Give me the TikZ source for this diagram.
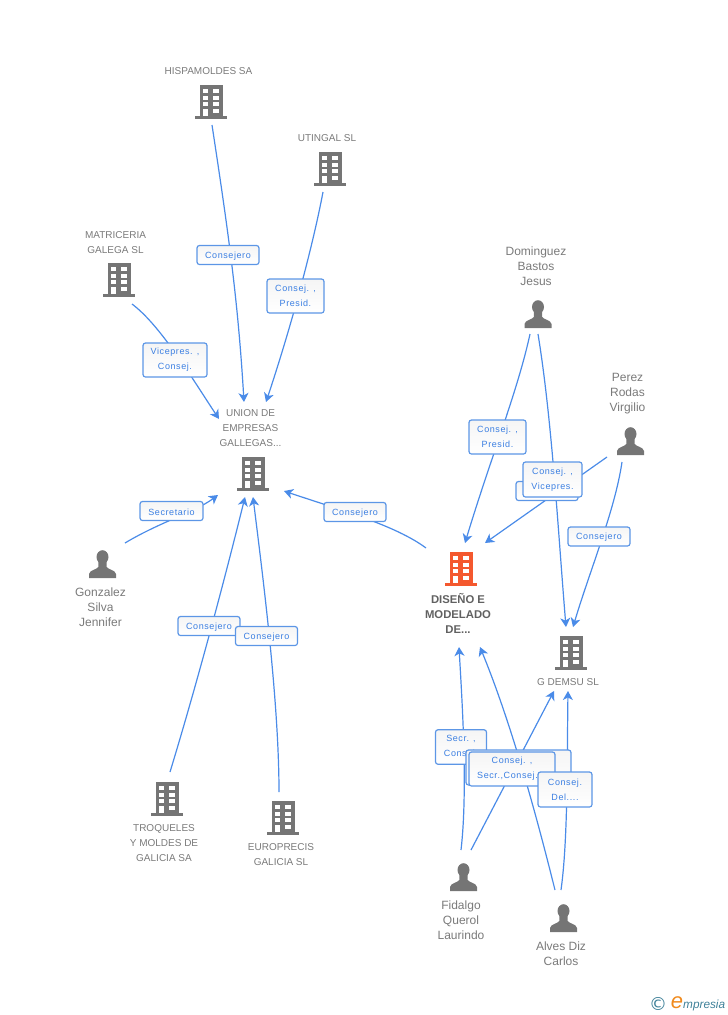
\documentclass[tikz,border=0pt]{standalone}
\usepackage{fontspec}
\setmainfont{Liberation Sans}
\newfontfamily\lblfont[LetterSpace=6.5]{Liberation Sans}
\newfontfamily\dejafont{DejaVu Sans}
\usetikzlibrary{arrows.meta}
\definecolor{linkblue}{HTML}{4A8BE8}
\definecolor{boxblue}{HTML}{5C96E6}
\definecolor{lbltext}{HTML}{3B7FE2}
\definecolor{greytxt}{HTML}{7A7A7A}
\definecolor{iconGrey}{HTML}{757575}
\definecolor{iconOrange}{HTML}{F4582E}
\definecolor{markTeal}{HTML}{3F8199}
\definecolor{markOrange}{HTML}{F08A1D}
\tikzset{
  x=1pt,y=-1pt,
  link/.style={draw=linkblue,line width=1.2pt,-{Stealth[length=9pt,width=10pt,inset=2.6pt]}},
  lbl/.style={draw=boxblue,line width=1.2pt,rounded corners=2.5pt,top color=black!4,bottom color=white,
    inner sep=0pt,align=center,text=lbltext,font=\lblfont\fontsize{9}{15}\selectfont,
    execute at begin node={\rule{0pt}{8.6pt}}},
  lbla/.style={lbl,minimum width=62pt,minimum height=19pt},
  ent/.style={inner sep=0pt,align=center,text=greytxt,font=\fontsize{10}{15}\selectfont},
  pers/.style={inner sep=0pt,align=center,text=greytxt,font=\fontsize{12}{15}\selectfont},
  focus/.style={inner sep=0pt,align=center,text=black!62,font=\bfseries\fontsize{11.3}{15}\selectfont},
  iconbox/.style={inner sep=0pt,minimum width=30pt,minimum height=30pt},
  bldg/.pic={
    \fill[#1] (-11.5,-17) rectangle (11.5,14);
    \fill[#1] (-16,14) rectangle (16,17);
    \foreach \yy in {-13,-6.5,0}{
      \fill[white] (-8,\yy) rectangle (-2.7,\yy+4.4);
      \fill[white] (2.3,\yy) rectangle (7.6,\yy+4.4);
    }
    \fill[white] (2.3,6.5) rectangle (7.6,10.9);
    \fill[white] (-8,6.5) rectangle (-2.7,14);
  },
  person/.pic={
    \fill[iconGrey] (0,-7) ellipse[x radius=6,y radius=6.8];
    \fill[iconGrey] (-4.2,-2) -- (-4.2,3) .. controls (-5.5,5.5) and (-13,6) .. (-13.5,10)
      -- (-13.5,14) -- (13.5,14) -- (13.5,10) .. controls (13,6) and (5.5,5.5) .. (4.2,3) -- (4.2,-2) -- cycle;
  },
}
\begin{document}
\begin{tikzpicture}
\useasboundingbox (0,0) rectangle (728,1015);
% icons
\node[iconbox] (hisp) at (211,102) {}; \pic at (hisp) {bldg=iconGrey};
\node[iconbox] (utin) at (330,169) {}; \pic at (utin) {bldg=iconGrey};
\node[iconbox] (matr) at (119,280) {}; \pic at (matr) {bldg=iconGrey};
\node[iconbox] (unio) at (253,474) {}; \pic at (unio) {bldg=iconGrey};
\node[iconbox] (dise) at (461,569) {}; \pic at (dise) {bldg=iconOrange};
\node[iconbox] (gdem) at (571,653) {}; \pic at (gdem) {bldg=iconGrey};
\node[iconbox] (troq) at (167,799) {}; \pic at (troq) {bldg=iconGrey};
\node[iconbox] (euro) at (283,818) {}; \pic at (euro) {bldg=iconGrey};
\node[iconbox] (gonz) at (102.5,564) {}; \pic at (gonz) {person};
\node[iconbox] (domi) at (538,314) {}; \pic at (domi) {person};
\node[iconbox] (pere) at (630.5,441) {}; \pic at (pere) {person};
\node[iconbox] (fida) at (463.5,877) {}; \pic at (fida) {person};
\node[iconbox] (alve) at (563.5,918) {}; \pic at (alve) {person};
% names
\node[ent] (t1) at (208.5,71.5) {HISPAMOLDES SA};
\node[ent] (t2) at (327,138.5) {UTINGAL SL};
\node[ent] (t3) at (115.5,243) {MATRICERIA\\GALEGA SL};
\node[ent] (t4) at (250.5,428.5) {UNION DE\\EMPRESAS\\GALLEGAS...};
\node[pers] (t5) at (100.5,607) {Gonzalez\\Silva\\Jennifer};
\node[pers] (t6) at (536,266) {Dominguez\\Bastos\\Jesus};
\node[pers] (t7) at (627.5,394) {Perez\\Rodas\\Virgilio};
\node[focus] (t8) at (458,613) {DISEÑO E\\MODELADO\\DE...};
\node[ent] (t9) at (568,682.5) {G DEMSU SL};
\node[ent] (t10) at (164,843.5) {TROQUELES\\Y MOLDES DE\\GALICIA SA};
\node[ent] (t11) at (281,855) {EUROPRECIS\\GALICIA SL};
\node[pers] (t12) at (461,920) {Fidalgo\\Querol\\Laurindo};
\node[pers] (t13) at (561,953.5) {Alves Diz\\Carlos};
% connector ends
\coordinate (hisp-o) at (212,125);
\coordinate (utin-o) at (323,192);
\coordinate (matr-o) at (132,304);
\coordinate (gonz-o) at (125,543);
\coordinate (troq-o) at (170,772);
\coordinate (euro-o) at (279,792);
\coordinate (dise-o) at (426,548);
\coordinate (domi-a) at (530,334);
\coordinate (domi-b) at (538,334);
\coordinate (pere-a) at (607,457);
\coordinate (pere-b) at (622,462);
\coordinate (fida-a) at (461,850);
\coordinate (fida-b) at (471,850);
\coordinate (alve-a) at (555,890);
\coordinate (alve-b) at (561,890);
\coordinate (unio-a) at (244,402);
\coordinate (unio-b) at (266,402);
\coordinate (unio-c) at (219,419);
\coordinate (unio-d) at (218,495);
\coordinate (unio-e) at (245,497);
\coordinate (unio-f) at (253,497);
\coordinate (unio-g) at (284,491);
\coordinate (dise-a) at (465,543);
\coordinate (dise-b) at (485,543);
\coordinate (dise-c) at (459,647);
\coordinate (dise-d) at (480,647);
\coordinate (gdem-a) at (566,627);
\coordinate (gdem-b) at (573,627);
\coordinate (gdem-c) at (554,691);
\coordinate (gdem-d) at (568,691);
% connectors
\draw[link] (hisp-o) .. controls (228,230) and (238,300) .. (unio-a);
\draw[link] (utin-o) .. controls (312,250) and (290,330) .. (unio-b);
\draw[link] (matr-o) .. controls (160,325) and (190,375) .. (unio-c);
\draw[link] (gonz-o) .. controls (160,522) and (195,512) .. (unio-d);
\draw[link] (troq-o) .. controls (195,690) and (222,590) .. (unio-e);
\draw[link] (euro-o) .. controls (279,700) and (262,570) .. (unio-f);
\draw[link] (dise-o) .. controls (395,525) and (340,510) .. (unio-g);
\draw[link] (domi-a) .. controls (518,390) and (490,460) .. (dise-a);
\draw[link] (domi-b) .. controls (552,420) and (558,530) .. (gdem-a);
\draw[link] (pere-a) -- (dise-b);
\draw[link] (pere-b) .. controls (615,510) and (590,570) .. (gdem-b);
\draw[link] (fida-a) .. controls (468,790) and (462,700) .. (dise-c);
\draw[link] (fida-b) -- (gdem-c);
\draw[link] (alve-a) .. controls (540,830) and (514,730) .. (dise-d);
\draw[link] (alve-b) .. controls (568,840) and (567,760) .. (gdem-d);
% labels
\node[lbla] (l1) at (228,255) {Consejero};
\node[lbl,minimum width=57pt,minimum height=34pt] (l2) at (295.5,296) {Consej. ,\\Presid.};
\node[lbl,minimum width=64pt,minimum height=34pt] (l3) at (175,360) {Vicepres. ,\\Consej.};
\node[lbla,minimum width=63pt] (l4) at (171.5,511) {Secretario};
\node[lbla] (l5) at (355,512) {Consejero};
\node[lbla] (l6) at (209,626) {Consejero};
\node[lbla] (l7) at (266.5,636) {Consejero};
\node[lbl,minimum width=57pt,minimum height=34pt] (l8) at (497.5,437) {Consej. ,\\Presid.};
\node[lbla] (l9) at (547,491) {};
\node[lbl,minimum width=59pt,minimum height=35pt] (l10) at (552.5,479.5) {Consej. ,\\Vicepres.};
\node[lbla] (l11) at (599,536.5) {Consejero};
\node[lbl,minimum width=51pt,minimum height=34.5pt] (l12) at (461,747) {Secr. ,\\Consej.};
\node[lbl,minimum width=105pt,minimum height=35pt] (l13) at (518.5,767.5) {};
\node[lbl,minimum width=86pt,minimum height=34pt] (l14) at (512,769) {Consej. ,\\Secr.,Consej.\hspace*{9pt}};
\node[lbl,minimum width=54pt,minimum height=35pt] (l15) at (565,789.5) {Consej.\\Del....};
% watermark
\node[inner sep=0pt,text=markTeal,font=\dejafont\fontsize{18}{18}\selectfont] (m1) at (658,1004) {©};
\node[inner sep=0pt,text=markOrange,font=\itshape\fontsize{22}{22}\selectfont] (m2) at (677,1003) {e};
\node[inner sep=0pt,anchor=west,text=markTeal,font=\itshape\fontsize{11.8}{12}\selectfont] (m3) at (683,1005) {mpresia};
\end{tikzpicture}
\end{document}
